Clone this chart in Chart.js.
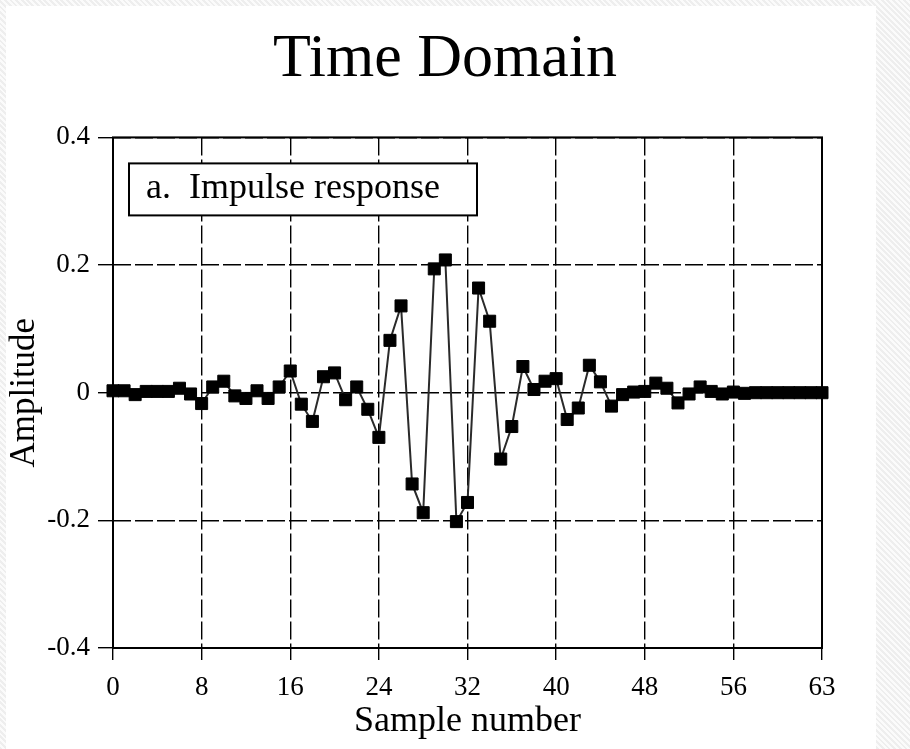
<!DOCTYPE html>
<html>
<head>
<meta charset="utf-8">
<title>Time Domain</title>
<script src="https://cdn.jsdelivr.net/npm/chart.js@4.4.0/dist/chart.umd.min.js"></script>
<style>
    html, body { margin: 0; padding: 0; }
    body {
        width: 910px; height: 749px; position: relative; overflow: hidden;
        background: repeating-linear-gradient(45deg, #eeeeee 0 2px, #fbfbfb 2px 4px);
    }
    #panel { position: absolute; left: 6px; top: 6px; width: 870px; height: 743px; background: #fff; }
    #chart { position: absolute; left: 0; top: 0; }
</style>
</head>
<body>
<div id="panel"></div>
<canvas id="chart" width="910" height="749"></canvas>
<script>
// Abtastwerte (Impulsantwort)
const sampleNumbers = [
    0, 1, 2, 3, 4, 5, 6, 7, 8, 9, 10, 11, 12, 13, 14, 15,
    16, 17, 18, 19, 20, 21, 22, 23, 24, 25, 26, 27, 28, 29, 30, 31,
    32, 33, 34, 35, 36, 37, 38, 39, 40, 41, 42, 43, 44, 45, 46, 47,
    48, 49, 50, 51, 52, 53, 54, 55, 56, 57, 58, 59, 60, 61, 62, 63, 64
];
const amplitude = [
    0.003, 0.003, -0.003, 0.002, 0.002, 0.002, 0.007, -0.002,
    -0.017, 0.009, 0.018, -0.005, -0.009, 0.003, -0.009, 0.009,
    0.034, -0.018, -0.045, 0.025, 0.031, -0.011, 0.009, -0.026,
    -0.070, 0.082, 0.136, -0.143, -0.188, 0.194, 0.208, -0.202,
    -0.172, 0.164, 0.112, -0.104, -0.053, 0.041, 0.005, 0.018,
    0.022, -0.042, -0.024, 0.043, 0.017, -0.021, -0.003, 0.001,
    0.002, 0.015, 0.007, -0.016, -0.002, 0.009, 0.002, -0.002,
    0.001, -0.001, 0.000, 0.000, 0.000, 0.000, 0.000, 0.000, 0.000
];
const xTickLabels = ['0', '8', '16', '24', '32', '40', '48', '56', '63'];
const noteText = 'a.  Impulse response';

const serif = "'Liberation Serif', 'DejaVu Serif', serif";

// Rahmen + Beschriftungskasten
const frameAndNote = {
    id: 'frameAndNote',
    beforeDatasetsDraw(chart) {
        const { ctx, chartArea } = chart;
        const { left, top, right, bottom } = chartArea;
        ctx.save();
        ctx.setLineDash([]);
        ctx.strokeStyle = '#000';
        ctx.lineWidth = 2;
        ctx.strokeRect(left, top, right - left, bottom - top);

        ctx.fillStyle = '#fff';
        ctx.fillRect(left + 16, top + 26, 348, 52);
        ctx.strokeRect(left + 16, top + 26, 348, 52);
        ctx.fillStyle = '#000';
        ctx.font = '36px ' + serif;
        ctx.textBaseline = 'alphabetic';
        ctx.fillText(noteText, left + 33, top + 61);
        ctx.restore();
    }
};

new Chart(document.getElementById('chart'), {
    type: 'line',
    data: {
        datasets: [{
            data: sampleNumbers.map((n, i) => ({ x: n, y: amplitude[i] })),
            borderColor: '#2a2a2a',
            borderWidth: 2,
            pointStyle: 'rect',
            pointRadius: 8.5,
            pointBackgroundColor: '#000',
            pointBorderColor: '#000',
            pointBorderWidth: 1,
            tension: 0,
            clip: false
        }]
    },
    options: {
        responsive: false,
        animation: false,
        layout: { padding: { left: 0, right: 20, top: 0, bottom: 0 } },
        plugins: {
            legend: { display: false },
            tooltip: { enabled: false },
            title: {
                display: true,
                text: 'Time Domain',
                color: '#000',
                font: { family: serif, size: 62, weight: 'normal' },
                padding: { top: 23, bottom: 40 }
            }
        },
        scales: {
            x: {
                type: 'linear',
                min: 0,
                max: 64,
                afterFit: s => { s.height = 101; },
                ticks: {
                    stepSize: 8,
                    autoSkip: false,
                    maxRotation: 0,
                    padding: 12,
                    color: '#000',
                    font: { family: serif, size: 27 },
                    callback: (v, i) => xTickLabels[i]
                },
                grid: {
                    color: '#000',
                    lineWidth: 1.4,
                    tickLength: 12,
                    tickColor: '#000',
                    tickWidth: 1.4,
                    tickBorderDash: []
                },
                border: { display: false, dash: [18, 4] },
                title: {
                    display: true,
                    text: 'Sample number',
                    color: '#000',
                    font: { family: serif, size: 36 },
                    padding: { top: 0, bottom: 6 }
                }
            },
            y: {
                min: -0.4,
                max: 0.4,
                afterFit: s => { s.width = 113; },
                ticks: {
                    stepSize: 0.2,
                    padding: 8,
                    color: '#000',
                    font: { family: serif, size: 27 },
                    callback: v => String(Math.round(v * 10) / 10)
                },
                grid: {
                    color: '#000',
                    lineWidth: 1.4,
                    tickLength: 15,
                    tickColor: '#000',
                    tickWidth: 1.4,
                    tickBorderDash: []
                },
                border: { display: false, dash: [18, 4] },
                title: {
                    display: true,
                    text: 'Amplitude',
                    color: '#000',
                    font: { family: serif, size: 35 },
                    padding: { top: 4, bottom: 0 }
                }
            },
            yRight: {
                position: 'right',
                afterFit: s => { s.width = 68; },
                ticks: { display: false },
                grid: { display: false },
                border: { display: false }
            }
        }
    },
    plugins: [frameAndNote]
});
</script>
</body>
</html>
